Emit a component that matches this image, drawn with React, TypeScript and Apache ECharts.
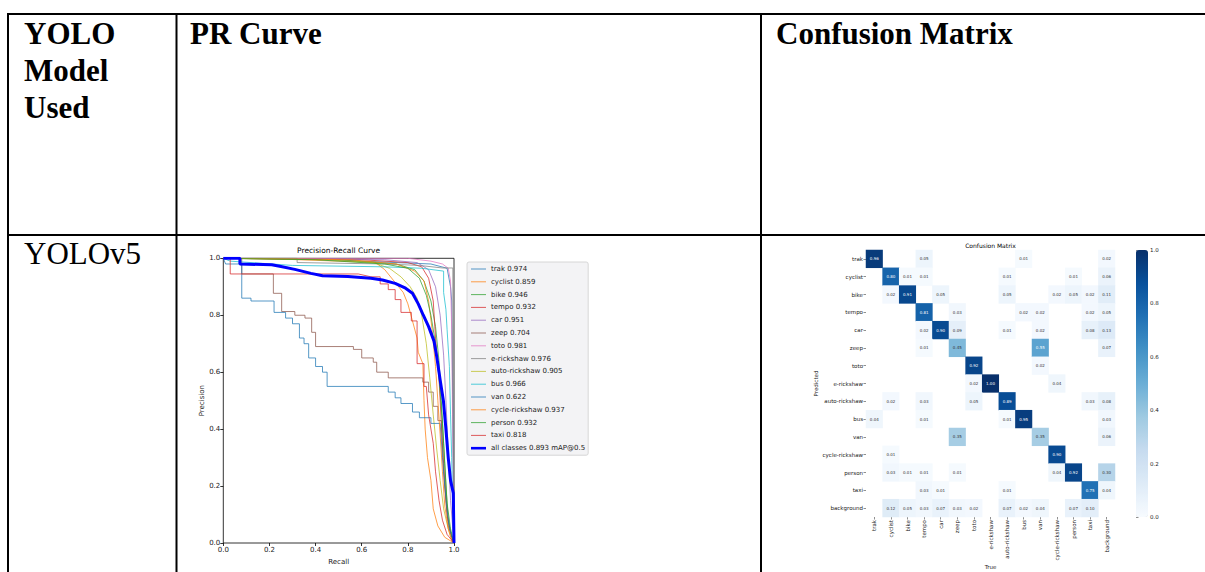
import React, { useEffect, useRef } from "react";
import * as echarts from "echarts";

// ---------- PR curve data ----------
const classNames = ["trak", "cyclist", "bike", "tempo", "car", "zeep", "toto", "e-rickshaw", "auto-rickshaw", "bus", "van", "cycle-rickshaw", "person", "taxi"];
const apValues = [0.974, 0.859, 0.946, 0.932, 0.951, 0.704, 0.981, 0.976, 0.905, 0.966, 0.622, 0.937, 0.932, 0.818];
const classColors = ["#1f77b4", "#ff7f0e", "#2ca02c", "#d62728", "#9467bd", "#8c564b", "#e377c2", "#7f7f7f", "#bcbd22", "#17becf", "#1f77b4", "#ff7f0e", "#2ca02c", "#d62728"];
const mapAll = 0.893;
const prTicks = [0, 0.2, 0.4, 0.6, 0.8, 1.0];

const prTrak = [[0, 1], [0.3, 1], [0.6, 0.99], [0.9, 0.98], [0.97, 0.965], [0.985, 0.9], [0.99, 0.85], [0.995, 0.45], [1, 0]];
const prCyclist = [[0, 1], [0.15, 1], [0.5, 0.99], [0.66, 0.985], [0.7, 0.96], [0.74, 0.92], [0.78, 0.88], [0.8, 0.84], [0.82, 0.78], [0.84, 0.72], [0.845, 0.67], [0.865, 0.63], [0.87, 0.5], [0.875, 0.4], [0.885, 0.3], [0.9, 0.22], [0.91, 0.12], [0.93, 0.06], [0.96, 0.02], [1, 0]];
const prBike = [[0, 1], [0.5, 0.995], [0.75, 0.98], [0.83, 0.96], [0.87, 0.92], [0.9, 0.85], [0.92, 0.76], [0.935, 0.64], [0.945, 0.5], [0.955, 0.35], [0.965, 0.2], [0.975, 0.08], [0.99, 0.02], [1, 0]];
const prTempo = [[0, 1], [0.6, 0.995], [0.8, 0.985], [0.86, 0.97], [0.89, 0.93], [0.91, 0.85], [0.92, 0.72], [0.935, 0.58], [0.945, 0.42], [0.955, 0.28], [0.965, 0.15], [0.975, 0.06], [0.99, 0.02], [1, 0]];
const prCar = [[0, 1], [0.7, 0.995], [0.84, 0.985], [0.89, 0.96], [0.92, 0.9], [0.94, 0.8], [0.955, 0.66], [0.965, 0.5], [0.975, 0.32], [0.985, 0.15], [0.995, 0.05], [1, 0]];
const prZeep = [[0, 1], [0.08, 1], [0.08, 0.945], [0.217, 0.945], [0.217, 0.877], [0.253, 0.877], [0.253, 0.813], [0.31, 0.813], [0.31, 0.8], [0.354, 0.8], [0.354, 0.79], [0.383, 0.79], [0.383, 0.74], [0.4, 0.74], [0.4, 0.69], [0.564, 0.69], [0.564, 0.68], [0.6, 0.68], [0.6, 0.65], [0.65, 0.65], [0.65, 0.635], [0.665, 0.635], [0.665, 0.6], [0.715, 0.6], [0.715, 0.58], [0.865, 0.58], [0.865, 0.565], [0.89, 0.565], [0.89, 0.53], [0.91, 0.53], [0.91, 0.48], [0.93, 0.48], [0.93, 0.43], [0.945, 0.43], [0.955, 0.25], [0.97, 0.1], [0.99, 0.02], [1, 0]];
const prToto = [[0, 1], [0.8, 1], [0.9, 0.99], [0.95, 0.98], [0.975, 0.965], [0.985, 0.92], [0.99, 0.75], [0.995, 0.35], [1, 0]];
const prERickshaw = [[0, 1], [0.32, 1], [0.32, 0.985], [0.7, 0.98], [0.85, 0.975], [0.95, 0.966], [0.995, 0.966], [0.995, 0.6], [1, 0]];
const prAutoRickshaw = [[0, 1], [0.45, 0.995], [0.65, 0.985], [0.72, 0.965], [0.77, 0.935], [0.81, 0.9], [0.84, 0.86], [0.86, 0.8], [0.88, 0.7], [0.895, 0.58], [0.91, 0.45], [0.925, 0.33], [0.94, 0.22], [0.955, 0.12], [0.975, 0.05], [0.99, 0.01], [1, 0]];
const prBus = [[0, 1], [0.03, 0.99], [0.3, 0.975], [0.7, 0.97], [0.86, 0.965], [0.955, 0.955], [0.955, 0.88], [0.965, 0.82], [0.97, 0.75], [0.98, 0.62], [0.985, 0.45], [0.99, 0.3], [0.995, 0.1], [1, 0]];
const prVan = [[0, 1], [0.01, 0.98], [0.08, 0.98], [0.08, 0.86], [0.12, 0.86], [0.12, 0.85], [0.22, 0.85], [0.22, 0.81], [0.27, 0.81], [0.27, 0.79], [0.3, 0.79], [0.3, 0.77], [0.33, 0.77], [0.33, 0.72], [0.35, 0.72], [0.35, 0.7], [0.37, 0.7], [0.37, 0.65], [0.4, 0.65], [0.4, 0.62], [0.43, 0.62], [0.43, 0.6], [0.45, 0.6], [0.45, 0.55], [0.715, 0.55], [0.715, 0.53], [0.745, 0.53], [0.745, 0.51], [0.77, 0.51], [0.77, 0.49], [0.82, 0.49], [0.82, 0.46], [0.85, 0.46], [0.85, 0.44], [0.9, 0.44], [0.9, 0.42], [0.94, 0.42], [0.95, 0.3], [0.96, 0.2], [0.97, 0.12], [0.98, 0.05], [1, 0]];
const prCycleRickshaw = [[0, 1], [0.55, 0.995], [0.75, 0.98], [0.83, 0.955], [0.87, 0.92], [0.89, 0.85], [0.905, 0.75], [0.92, 0.62], [0.93, 0.5], [0.94, 0.38], [0.95, 0.25], [0.96, 0.13], [0.975, 0.05], [0.99, 0.01], [1, 0]];
const prPerson = [[0, 1], [0.4, 0.995], [0.7, 0.98], [0.8, 0.965], [0.85, 0.93], [0.88, 0.87], [0.9, 0.8], [0.92, 0.7], [0.935, 0.58], [0.95, 0.42], [0.96, 0.28], [0.97, 0.14], [0.985, 0.05], [1, 0]];
const prTaxi = [[0, 1], [0.03, 1], [0.03, 0.945], [0.585, 0.945], [0.64, 0.935], [0.68, 0.935], [0.68, 0.91], [0.715, 0.91], [0.715, 0.89], [0.745, 0.89], [0.745, 0.855], [0.77, 0.855], [0.77, 0.81], [0.815, 0.81], [0.815, 0.78], [0.84, 0.78], [0.84, 0.63], [0.87, 0.63], [0.87, 0.55], [0.88, 0.55], [0.89, 0.45], [0.91, 0.35], [0.92, 0.25], [0.935, 0.15], [0.95, 0.08], [0.97, 0.03], [1, 0]];
const prAll = [[0, 1], [0.072, 1], [0.072, 0.98], [0.21, 0.977], [0.25, 0.971], [0.31, 0.961], [0.38, 0.947], [0.43, 0.939], [0.54, 0.936], [0.64, 0.93], [0.69, 0.924], [0.745, 0.912], [0.79, 0.895], [0.82, 0.877], [0.845, 0.84], [0.867, 0.8], [0.89, 0.76], [0.913, 0.71], [0.925, 0.655], [0.94, 0.573], [0.954, 0.5], [0.964, 0.41], [0.975, 0.3], [0.985, 0.22], [0.997, 0.175], [1, 0]];

const prCurves = [prTrak, prCyclist, prBike, prTempo, prCar, prZeep, prToto, prERickshaw, prAutoRickshaw, prBus, prVan, prCycleRickshaw, prPerson, prTaxi];

// ---------- Confusion matrix data (rows = Predicted, columns = True) ----------
const matrixLabels = ["trak", "cyclist", "bike", "tempo", "car", "zeep", "toto", "e-rickshaw", "auto-rickshaw", "bus", "van", "cycle-rickshaw", "person", "taxi", "background"];
const cmTrak = [0.96, 0, 0, 0.05, 0, 0, 0, 0, 0, 0.01, 0, 0, 0, 0, 0.02];
const cmCyclist = [0, 0.80, 0.01, 0.01, 0, 0, 0, 0, 0.01, 0, 0, 0, 0.01, 0, 0.06];
const cmBike = [0, 0.02, 0.91, 0, 0.05, 0, 0, 0, 0.05, 0, 0, 0.02, 0.05, 0.02, 0.11];
const cmTempo = [0, 0, 0, 0.81, 0, 0.03, 0, 0, 0, 0.02, 0.02, 0, 0, 0.02, 0.05];
const cmCar = [0, 0, 0, 0.02, 0.90, 0.09, 0, 0, 0.01, 0, 0.02, 0, 0, 0.08, 0.13];
const cmZeep = [0, 0, 0, 0.01, 0, 0.45, 0, 0, 0, 0, 0.55, 0, 0, 0, 0.07];
const cmToto = [0, 0, 0, 0, 0, 0, 0.92, 0, 0, 0, 0.02, 0, 0, 0, 0];
const cmERickshaw = [0, 0, 0, 0, 0, 0, 0.02, 1.00, 0, 0, 0, 0.04, 0, 0, 0];
const cmAutoRickshaw = [0, 0.02, 0, 0.03, 0, 0, 0.05, 0, 0.89, 0, 0, 0, 0, 0.03, 0.08];
const cmBus = [0.04, 0, 0, 0.01, 0, 0, 0, 0, 0.01, 0.95, 0, 0, 0, 0, 0.03];
const cmVan = [0, 0, 0, 0, 0, 0.35, 0, 0, 0, 0, 0.35, 0, 0, 0, 0.06];
const cmCycleRickshaw = [0, 0.01, 0, 0, 0, 0, 0, 0, 0, 0, 0, 0.90, 0, 0, 0];
const cmPerson = [0, 0.03, 0.01, 0.01, 0, 0.01, 0, 0, 0, 0, 0, 0.04, 0.92, 0, 0.30];
const cmTaxi = [0, 0, 0, 0.03, 0.01, 0, 0, 0, 0.01, 0, 0, 0, 0, 0.75, 0.04];
const cmBackground = [0, 0.12, 0.05, 0.03, 0.07, 0.03, 0.02, 0, 0.07, 0.02, 0.04, 0, 0.07, 0.10, 0];
const cmRows = [cmTrak, cmCyclist, cmBike, cmTempo, cmCar, cmZeep, cmToto, cmERickshaw, cmAutoRickshaw, cmBus, cmVan, cmCycleRickshaw, cmPerson, cmTaxi, cmBackground];
const colorbarTicks = [0, 0.2, 0.4, 0.6, 0.8, 1.0];
const bluesMap = ["#f7fbff", "#deebf7", "#c6dbef", "#9ecae1", "#6baed6", "#4292c6", "#2171b5", "#08519c", "#08306b"];

const SERIF = "'Liberation Serif', 'Times New Roman', serif";
const SANS = "'DejaVu Sans', sans-serif";

export default function App() {
  const ref = useRef<HTMLDivElement>(null);

  useEffect(() => {
    if (!ref.current) return;
    const chart = echarts.init(ref.current, null, { renderer: "svg" });

    const classSeries = classNames.map((name, i) => ({
      name: `${name} ${apValues[i].toFixed(3)}`,
      type: "line",
      xAxisIndex: 0,
      yAxisIndex: 0,
      data: prCurves[i],
      symbol: "none",
      z: 2,
      lineStyle: { width: 1, color: classColors[i], opacity: 0.75 },
      itemStyle: { color: classColors[i], opacity: 0.75 },
    }));
    const allName = `all classes ${mapAll.toFixed(3)} mAP@0.5`;
    const allSeries = {
      name: allName,
      type: "line",
      xAxisIndex: 0,
      yAxisIndex: 0,
      data: prAll,
      symbol: "none",
      z: 3,
      lineStyle: { width: 3, color: "#0000ff" },
      itemStyle: { color: "#0000ff" },
    };

    const heatData: any[] = [];
    cmRows.forEach((row, i) => {
      row.forEach((v, j) => {
        if (v >= 0.005) {
          heatData.push({ value: [j, i, v], label: { color: v > 0.5 ? "#ffffff" : "#333333" } });
        }
      });
    });

    const heatSeries = {
      type: "heatmap",
      xAxisIndex: 1,
      yAxisIndex: 1,
      data: heatData,
      label: {
        show: true,
        fontSize: 4,
        fontFamily: SANS,
        formatter: (p: any) => p.value[2].toFixed(2),
      },
    };

    const lineEl = (x1: number, y1: number, x2: number, y2: number) => ({
      type: "line",
      shape: { x1, y1, x2, y2 },
      style: { stroke: "#000", lineWidth: 2 },
      silent: true,
    });
    const textEl = (text: string, x: number, y: number, font: string, align = "left", rotation = 0) => ({
      type: "text",
      x,
      y,
      rotation,
      style: { text, font, fill: "#000", align, verticalAlign: "middle" },
      silent: true,
    });

    const axisText = { color: "#222", fontFamily: SANS };
    const thinIcon = "path://M0,0h15v1h-15z";
    const thickIcon = "path://M0,0h15v2.6h-15z";

    chart.setOption({
      animation: false,
      backgroundColor: "#ffffff",
      graphic: [
        lineEl(8, 14, 1205, 14),
        lineEl(8, 235, 1205, 235),
        lineEl(8, 13, 8, 572),
        lineEl(176.5, 13, 176.5, 572),
        lineEl(761, 13, 761, 572),
        textEl("YOLO", 24, 33, `bold 31px ${SERIF}`),
        textEl("Model", 24, 70, `bold 31px ${SERIF}`),
        textEl("Used", 24, 107, `bold 31px ${SERIF}`),
        textEl("PR Curve", 190, 33, `bold 31px ${SERIF}`),
        textEl("Confusion Matrix", 776, 33, `bold 31px ${SERIF}`),
        textEl("YOLOv5", 24, 253, `31px ${SERIF}`),
        textEl("Precision-Recall Curve", 338.6, 250, `7.5px ${SANS}`, "center"),
        textEl("Confusion Matrix", 990.5, 245, `6px ${SANS}`, "center"),
      ],
      legend: {
        data: [
          ...classSeries.map((s) => ({ name: s.name, icon: thinIcon })),
          { name: allName, icon: thickIcon },
        ],
        orient: "vertical",
        left: 467,
        top: 262,
        padding: [2, 3, 2, 4],
        itemGap: 2.8,
        itemWidth: 15,
        itemHeight: 8,
        symbolKeepAspect: true,
        backgroundColor: "#f3f3f5",
        borderColor: "#d6d6d6",
        borderWidth: 1,
        borderRadius: 2,
        textStyle: { fontSize: 7, lineHeight: 10, color: "#222", fontFamily: SANS },
        selectedMode: false,
      },
      grid: [
        { left: 223.3, top: 258.3, width: 230.7, height: 284.7, show: true, borderColor: "#000", borderWidth: 0.8, backgroundColor: "transparent" },
        { left: 866, top: 250, width: 249, height: 267 },
        { left: 1136, top: 250, width: 12, height: 267 },
      ],
      xAxis: [
        {
          type: "value",
          gridIndex: 0,
          min: 0,
          max: 1,
          interval: 0.2,
          name: "Recall",
          nameLocation: "middle",
          nameGap: 15,
          nameTextStyle: { fontSize: 7, ...axisText },
          axisLine: { show: false },
          axisTick: { show: true, length: 3, lineStyle: { color: "#000", width: 0.8 } },
          axisLabel: { fontSize: 7, margin: 3, ...axisText, formatter: (v: number) => (prTicks.includes(v) ? v.toFixed(1) : "") },
          splitLine: { show: false },
        },
        {
          type: "category",
          gridIndex: 1,
          data: matrixLabels,
          position: "bottom",
          name: "True",
          nameLocation: "middle",
          nameGap: 47,
          nameTextStyle: { fontSize: 5.5, ...axisText },
          axisLine: { show: false },
          axisTick: { show: true, length: 2.5, alignWithLabel: true, lineStyle: { color: "#444", width: 0.6 } },
          axisLabel: { rotate: 90, fontSize: 5.5, interval: 0, margin: 3, ...axisText },
          splitLine: { show: false },
        },
        { type: "value", gridIndex: 2, min: 0, max: 1, show: false },
      ],
      yAxis: [
        {
          type: "value",
          gridIndex: 0,
          min: 0,
          max: 1,
          interval: 0.2,
          name: "Precision",
          nameLocation: "middle",
          nameGap: 17,
          nameTextStyle: { fontSize: 7, ...axisText },
          axisLine: { show: false },
          axisTick: { show: true, length: 3, lineStyle: { color: "#000", width: 0.8 } },
          axisLabel: { fontSize: 7, margin: 3, ...axisText, formatter: (v: number) => (prTicks.includes(v) ? v.toFixed(1) : "") },
          splitLine: { show: false },
        },
        {
          type: "category",
          gridIndex: 1,
          data: matrixLabels,
          inverse: true,
          name: "Predicted",
          nameLocation: "middle",
          nameGap: 46,
          nameRotate: 90,
          nameTextStyle: { fontSize: 5.5, ...axisText },
          axisLine: { show: false },
          axisTick: { show: true, length: 2.5, alignWithLabel: true, lineStyle: { color: "#444", width: 0.6 } },
          axisLabel: { fontSize: 5.5, interval: 0, margin: 3, ...axisText },
          splitLine: { show: false },
        },
        {
          type: "value",
          gridIndex: 2,
          min: 0,
          max: 1,
          interval: 0.2,
          position: "right",
          axisLine: { show: false },
          axisTick: { show: true, length: 2.5, lineStyle: { color: "#444", width: 0.6 } },
          axisLabel: { fontSize: 5.5, margin: 2, ...axisText, formatter: (v: number) => (colorbarTicks.includes(v) ? v.toFixed(1) : "") },
          splitLine: { show: false },
        },
      ],
      visualMap: {
        type: "continuous",
        seriesIndex: classSeries.length + 1,
        min: 0,
        max: 1,
        orient: "vertical",
        left: 1136,
        top: 250,
        itemWidth: 12,
        itemHeight: 267,
        padding: 0,
        calculable: false,
        hoverLink: false,
        inRange: { color: bluesMap },
      },
      series: [...classSeries, allSeries, heatSeries],
    });

    return () => chart.dispose();
  }, []);

  return <div ref={ref} style={{ position: "absolute", left: 0, top: 0, width: 1205, height: 572 }} />;
}
